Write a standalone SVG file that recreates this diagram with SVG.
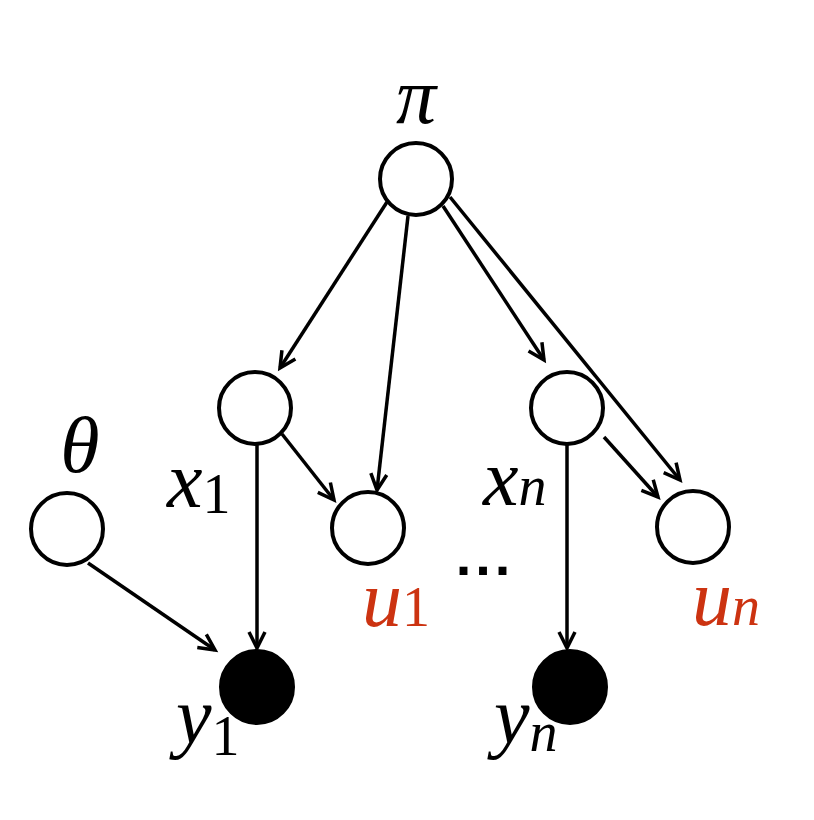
<svg xmlns="http://www.w3.org/2000/svg" width="814" height="820" viewBox="0 0 814 820">
<defs>
<marker id="ah" viewBox="0 0 20 20" refX="18" refY="10" markerWidth="20" markerHeight="20" markerUnits="userSpaceOnUse" orient="auto" overflow="visible">
<path d="M2,2 L18,10 L2,18" fill="none" stroke="#000" stroke-width="3.5" stroke-linejoin="miter"/>
</marker>
<style>
.n{fill:#fff;stroke:#000;stroke-width:4}
.o{fill:#000;stroke:#000;stroke-width:2}
.e{stroke:#000;stroke-width:3.5;fill:none}
.t{font-family:"Liberation Serif",serif;font-style:italic;font-size:80px;fill:#000}
.s{font-family:"Liberation Serif",serif;font-style:normal;font-size:56px}
.si{font-family:"Liberation Serif",serif;font-style:italic;font-size:56px}
.r{fill:#cc3311}
</style>
</defs>
<rect width="814" height="820" fill="#fff"/>
<g id="connectors">
<line class="e" x1="387" y1="202" x2="280" y2="368" marker-end="url(#ah)"/>
<line class="e" x1="408" y1="216" x2="377" y2="490" marker-end="url(#ah)"/>
<line class="e" x1="443" y1="206" x2="544" y2="360" marker-end="url(#ah)"/>
<line class="e" x1="450" y1="197" x2="680" y2="480" marker-end="url(#ah)"/>
<line class="e" x1="282" y1="434" x2="334" y2="500" marker-end="url(#ah)"/>
<line class="e" x1="604" y1="437" x2="658" y2="497" marker-end="url(#ah)"/>
<line class="e" x1="257" y1="445" x2="257" y2="648" marker-end="url(#ah)"/>
<line class="e" x1="567" y1="445" x2="567" y2="648" marker-end="url(#ah)"/>
<line class="e" x1="88" y1="563" x2="215" y2="650" marker-end="url(#ah)"/>
</g>
<g id="pi"><circle class="n" cx="416" cy="179" r="36"/><text class="t" x="416" y="123" text-anchor="middle" font-size="88">π</text></g>
<g id="theta"><circle class="n" cx="67" cy="529" r="36"/><text class="t" x="80" y="472" text-anchor="middle">θ</text></g>
<g id="x1"><circle class="n" cx="255" cy="408" r="36"/><text class="t" x="167" y="507">x<tspan class="s" dy="6">1</tspan></text></g>
<g id="u1"><circle class="n" cx="368" cy="528" r="36"/><text class="t r" x="362" y="626">u<tspan class="s" dy="0">1</tspan></text></g>
<g id="xn"><circle class="n" cx="567" cy="408" r="36"/><text class="t" x="483" y="505">x<tspan class="si" dy="0">n</tspan></text></g>
<g id="un"><circle class="n" cx="693" cy="527" r="36"/><text class="t r" x="692" y="625">u<tspan class="si" dy="0">n</tspan></text></g>
<g id="y1"><circle class="o" cx="257" cy="687" r="37"/><text class="t" x="176" y="743">y<tspan class="s" dy="12">1</tspan></text></g>
<g id="yn"><circle class="o" cx="570" cy="687" r="37"/><text class="t" x="494" y="743">y<tspan class="si" dy="8">n</tspan></text></g>
<g id="dots"><text x="485" y="575" text-anchor="middle" font-family="Liberation Sans, sans-serif" font-weight="bold" font-size="56" letter-spacing="4">...</text></g>
</svg>
